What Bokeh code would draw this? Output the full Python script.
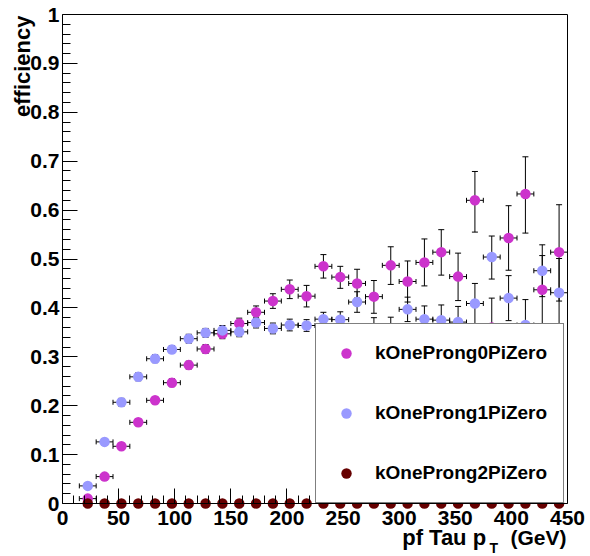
from math import pi
from bokeh.plotting import figure
from bokeh.models import (ColumnDataSource, Whisker, TeeHead, Range1d, FixedTicker,
                          Legend, LegendItem, Label, LinearAxis)
from bokeh.core.properties import value
from bokeh.embed import file_html
from bokeh.resources import INLINE

# ---------------- data ----------------
pt_centers = [22.5, 37.5, 52.5, 67.5, 82.5, 97.5, 112.5, 127.5, 142.5, 157.5,
              172.5, 187.5, 202.5, 217.5, 232.5, 247.5, 262.5, 277.5, 292.5, 307.5,
              322.5, 337.5, 352.5, 367.5, 382.5, 397.5, 412.5, 427.5, 442.5]
bin_half_width = 7.5

eff_0pi0 = [0.010, 0.055, 0.117, 0.166, 0.211, 0.247, 0.283, 0.316, 0.347, 0.368,
            0.391, 0.414, 0.438, 0.424, 0.485, 0.463, 0.450, 0.423, 0.487, 0.454,
            0.493, 0.514, 0.464, 0.620, 0.360, 0.543, 0.633, 0.437, 0.514]
err_up_0pi0 = [0.003, 0.005, 0.006, 0.007, 0.007, 0.008, 0.008, 0.009, 0.010, 0.011,
               0.013, 0.015, 0.019, 0.022, 0.024, 0.022, 0.029, 0.033, 0.038, 0.042,
               0.048, 0.046, 0.048, 0.059, 0.060, 0.066, 0.076, 0.070, 0.097]
err_dn_0pi0 = [0.003, 0.005, 0.006, 0.007, 0.007, 0.008, 0.008, 0.009, 0.010, 0.011,
               0.013, 0.015, 0.019, 0.022, 0.024, 0.023, 0.030, 0.034, 0.039, 0.042,
               0.048, 0.047, 0.049, 0.065, 0.062, 0.066, 0.080, 0.072, 0.100]

eff_1pi0 = [0.036, 0.126, 0.207, 0.259, 0.296, 0.315, 0.337, 0.349, 0.354, 0.351,
            0.370, 0.358, 0.365, 0.364, 0.377, 0.376, 0.412, 0.350, 0.350, 0.397,
            0.377, 0.375, 0.371, 0.409, 0.504, 0.420, 0.365, 0.476, 0.431]
err_up_1pi0 = [0.004, 0.007, 0.008, 0.008, 0.008, 0.008, 0.009, 0.009, 0.010, 0.010,
               0.011, 0.011, 0.012, 0.012, 0.014, 0.016, 0.021, 0.030, 0.031, 0.025,
               0.027, 0.031, 0.032, 0.041, 0.043, 0.046, 0.052, 0.053, 0.070]
err_dn_1pi0 = [0.004, 0.007, 0.008, 0.008, 0.008, 0.008, 0.009, 0.009, 0.010, 0.010,
               0.011, 0.011, 0.012, 0.012, 0.014, 0.016, 0.021, 0.030, 0.031, 0.025,
               0.027, 0.031, 0.032, 0.041, 0.045, 0.046, 0.052, 0.053, 0.070]

eff_2pi0 = [0.0, 0.0, 0.0, 0.0, 0.0, 0.0, 0.0, 0.0, 0.0, 0.0,
            0.0, 0.0, 0.0, 0.0, 0.0, 0.0, 0.0, 0.0, 0.0, 0.0,
            0.0, 0.0, 0.0, 0.0, 0.0, 0.0, 0.0, 0.0, 0.0]

series_names = ["kOneProng0PiZero", "kOneProng1PiZero", "kOneProng2PiZero"]
series_colors = ["#cc33cc", "#9999ff", "#660000"]

x_ticks = [0, 50, 100, 150, 200, 250, 300, 350, 400, 450]
x_minor = [10, 20, 30, 40, 60, 70, 80, 90, 110, 120, 130, 140, 160, 170, 180, 190,
           210, 220, 230, 240, 260, 270, 280, 290, 310, 320, 330, 340, 360, 370, 380,
           390, 410, 420, 430, 440]
y_ticks = [0, 0.1, 0.2, 0.3, 0.4, 0.5, 0.6, 0.7, 0.8, 0.9, 1.0]
y_minor = [0.02, 0.04, 0.06, 0.08, 0.12, 0.14, 0.16, 0.18, 0.22, 0.24, 0.26, 0.28,
           0.32, 0.34, 0.36, 0.38, 0.42, 0.44, 0.46, 0.48, 0.52, 0.54, 0.56, 0.58,
           0.62, 0.64, 0.66, 0.68, 0.72, 0.74, 0.76, 0.78, 0.82, 0.84, 0.86, 0.88,
           0.92, 0.94, 0.96, 0.98]
x_min, x_max = 0, 450
y_min, y_max = 0, 1

FONT = "Liberation Sans"

# ---------------- layout (pixels) ----------------
W, H = 590, 556
AX_L, AX_R, AX_B, AX_T = 62, 567, 503, 14      # where the axes box sits on the canvas
sx = (AX_R - AX_L) / (x_max - x_min)
sy = (AX_B - AX_T) / (y_max - y_min)

# The frame fills the whole canvas; axes are pinned at the data box edges
p = figure(width=W, height=H, output_backend="svg", toolbar_location=None,
           x_range=Range1d(x_min - AX_L / sx, x_max + (W - AX_R) / sx),
           y_range=Range1d(y_min - (H - AX_B) / sy, y_max + AX_T / sy),
           min_border=0, min_border_left=0, min_border_right=0,
           min_border_top=0, min_border_bottom=0)
p.background_fill_color = "white"
p.border_fill_color = "white"
p.outline_line_color = None
p.xgrid.grid_line_color = None
p.ygrid.grid_line_color = None

p.xaxis.ticker = FixedTicker(ticks=x_ticks, minor_ticks=x_minor)
p.yaxis.ticker = FixedTicker(ticks=y_ticks, minor_ticks=y_minor)
p.xaxis.fixed_location = y_min
p.yaxis.fixed_location = x_min
p.xaxis.bounds = (x_min, x_max)
p.yaxis.bounds = (y_min, y_max)
p.yaxis.major_label_overrides = {0: "0", 1: "1"}
for ax in (p.xaxis[0], p.yaxis[0]):
    ax.major_label_text_font = FONT
    ax.major_label_text_font_style = "bold"
    ax.major_label_text_font_size = "21px"
    ax.major_label_text_color = "black"
    ax.major_tick_in = 15
    ax.major_tick_out = 0
    ax.minor_tick_in = 8
    ax.minor_tick_out = 0
    ax.axis_line_color = "black"
    ax.major_tick_line_color = "black"
    ax.minor_tick_line_color = "black"
p.yaxis.major_label_standoff = 3
p.xaxis.major_label_standoff = 7

# top and right edges of the box
top_edge = LinearAxis(fixed_location=y_max, bounds=(x_min, x_max),
                      ticker=FixedTicker(ticks=[], minor_ticks=[]),
                      axis_line_color="black", major_label_text_font_size="0px")
right_edge = LinearAxis(fixed_location=x_max, bounds=(y_min, y_max),
                        ticker=FixedTicker(ticks=[], minor_ticks=[]),
                        axis_line_color="black", major_label_text_font_size="0px")
p.add_layout(top_edge, "above")
p.add_layout(right_edge, "right")


def add_series(vals, up, dn, color, with_err):
    src = ColumnDataSource(dict(
        x=pt_centers, y=vals,
        lo=[v - d for v, d in zip(vals, dn)], hi=[v + u for v, u in zip(vals, up)],
        xlo=[x - bin_half_width for x in pt_centers],
        xhi=[x + bin_half_width for x in pt_centers]))
    if with_err:
        p.add_layout(Whisker(source=src, base="x", lower="lo", upper="hi", dimension="height",
                             line_color="black", line_width=1,
                             upper_head=TeeHead(size=6, line_color="black", line_width=1),
                             lower_head=TeeHead(size=6, line_color="black", line_width=1)))
        p.add_layout(Whisker(source=src, base="y", lower="xlo", upper="xhi", dimension="width",
                             line_color="black", line_width=1,
                             upper_head=TeeHead(size=5, line_color="black", line_width=1),
                             lower_head=TeeHead(size=5, line_color="black", line_width=1)))
    return p.scatter("x", "y", source=src, size=10.5, fill_color=color, line_color=None)


r0 = add_series(eff_0pi0, err_up_0pi0, err_dn_0pi0, series_colors[0], True)
r1 = add_series(eff_1pi0, err_up_1pi0, err_dn_1pi0, series_colors[1], True)
r2 = add_series(eff_2pi0, eff_2pi0, eff_2pi0, series_colors[2], False)

legend = Legend(items=[LegendItem(label=value(series_names[0]), renderers=[r0]),
                       LegendItem(label=value(series_names[1]), renderers=[r1]),
                       LegendItem(label=value(series_names[2]), renderers=[r2])],
                location=(315, H - AX_B), orientation="vertical",
                padding=16, spacing=34, glyph_width=28, glyph_height=26,
                label_height=26, label_standoff=15,
                label_text_font=FONT, label_text_font_style="bold",
                label_text_font_size="19px", label_text_color="black",
                border_line_color="black", border_line_width=1,
                background_fill_color="white", background_fill_alpha=1.0,
                click_policy="none")
p.add_layout(legend, "center")

title_style = dict(x_units="screen", y_units="screen", text_font=FONT,
                   text_font_style="bold", text_color="black")
p.add_layout(Label(x=22, y=H - 15, text="efficiency", angle=pi / 2, text_align="right",
                   text_baseline="alphabetic", text_font_size="22px", **title_style))
p.add_layout(Label(x=401.7, y=H - 536.7, text="pf Tau p", text_align="left",
                   text_baseline="alphabetic", text_font_size="22px", **title_style))
p.add_layout(Label(x=489, y=0.5, text="T", text_align="left",
                   text_baseline="bottom", text_font_size="14px", **title_style))
p.add_layout(Label(x=566, y=H - 536.7, text="(GeV)", text_align="right",
                   text_baseline="alphabetic", text_font_size="21px", **title_style))

open("out.html", "w").write(file_html(p, INLINE))
